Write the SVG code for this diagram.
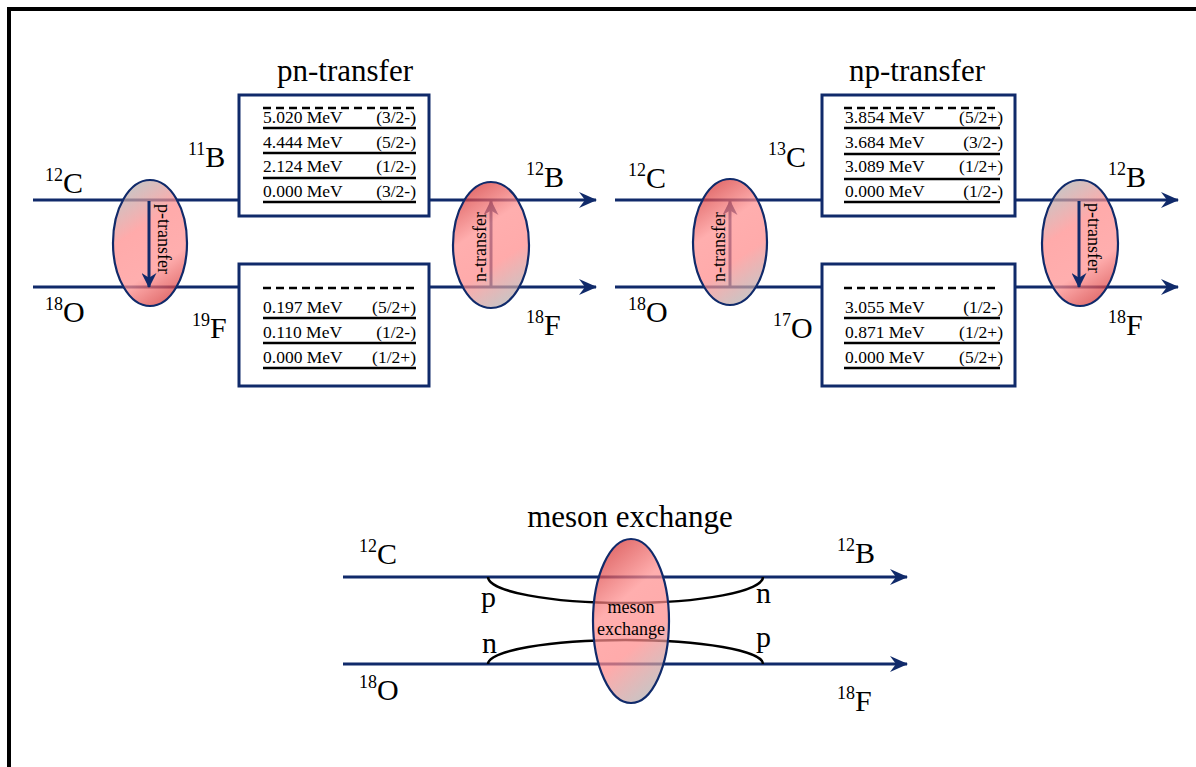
<svg xmlns="http://www.w3.org/2000/svg" width="1196" height="767" viewBox="0 0 1196 767">
<style>
.ln{stroke:#102a6a;stroke-width:3;fill:none}
.box{stroke:#102a6a;stroke-width:3;fill:#fff}
.lvl{stroke:#000;stroke-width:2.5}
.dash{stroke:#000;stroke-width:2.5;stroke-dasharray:8 5}
text{font-family:"Liberation Serif","Times New Roman",serif;fill:#000}
.el{font-family:"Liberation Serif","Times New Roman",serif;font-size:30px}
.sup{font-size:18px}
.ttl{font-family:"Liberation Serif","Times New Roman",serif;font-size:31px;text-anchor:middle}
.e{font-family:"Liberation Serif","Times New Roman",serif;font-size:17.5px}
.j{font-family:"Liberation Serif","Times New Roman",serif;font-size:17.5px;text-anchor:end}
.rot{font-family:"Liberation Serif","Times New Roman",serif;font-size:18px;text-anchor:middle}
.ms{font-family:"Liberation Serif","Times New Roman",serif;font-size:18px;text-anchor:middle}
.ell{stroke:#102a6a;stroke-width:2.2;fill-opacity:0.72}
.curve{stroke:#000;stroke-width:2.5;fill:none}
</style>
<defs>
<marker id="ah" viewBox="0 0 18 16" markerWidth="18" markerHeight="16" refX="17" refY="8" orient="auto" markerUnits="userSpaceOnUse">
<path d="M0,0 L18,8 L0,16 L6,8 z" fill="#102a6a"/>
</marker>
<marker id="ahs" viewBox="0 0 16 16" markerWidth="16" markerHeight="15" refX="15" refY="8" orient="auto" markerUnits="userSpaceOnUse">
<path d="M0,0 L16,8 L0,16 L5,8 z" fill="#102a6a"/>
</marker>
<linearGradient id="gP" x1="0.3" y1="0" x2="0.7" y2="1">
<stop offset="0" stop-color="#b0b0b0"/>
<stop offset="0.35" stop-color="#ff8a8a"/>
<stop offset="0.7" stop-color="#ff8f8f"/>
<stop offset="1" stop-color="#d43030"/>
</linearGradient>
<linearGradient id="gN" x1="0.3" y1="0" x2="0.7" y2="1">
<stop offset="0" stop-color="#d43030"/>
<stop offset="0.35" stop-color="#ff8f8f"/>
<stop offset="0.65" stop-color="#ff8a8a"/>
<stop offset="1" stop-color="#b0b0b0"/>
</linearGradient>
</defs>
<rect width="1196" height="767" fill="#fff"/>
<path d="M9,767 V9 H1196" stroke="#000" stroke-width="4" fill="none"/>

<g id="titles">
<text class="ttl" x="345" y="81">pn-transfer</text>
<text class="ttl" x="917" y="81">np-transfer</text>
<text class="ttl" x="630" y="527">meson exchange</text>
</g>

<g id="connectors">
<line class="ln" x1="33" y1="200" x2="239" y2="200"/>
<line class="ln" x1="429" y1="200" x2="596" y2="200" marker-end="url(#ah)"/>
<line class="ln" x1="33" y1="287" x2="239" y2="287"/>
<line class="ln" x1="429" y1="287" x2="596" y2="287" marker-end="url(#ah)"/>
<line class="ln" x1="615" y1="200" x2="822" y2="200"/>
<line class="ln" x1="1015" y1="200" x2="1178" y2="200" marker-end="url(#ah)"/>
<line class="ln" x1="615" y1="287" x2="822" y2="287"/>
<line class="ln" x1="1015" y1="287" x2="1178" y2="287" marker-end="url(#ah)"/>
<line class="ln" x1="343" y1="577" x2="907" y2="577" marker-end="url(#ah)"/>
<line class="ln" x1="343" y1="664" x2="907" y2="664" marker-end="url(#ah)"/>
<path class="curve" d="M488,577 A137.5,26 0 0 0 763,577"/>
<path class="curve" d="M488,664 A137.5,24 0 0 1 763,664"/>
<line class="ln" x1="491" y1="287" x2="491" y2="201" marker-end="url(#ahs)"/>
<line class="ln" x1="730" y1="287" x2="730" y2="201" marker-end="url(#ahs)"/>
</g>

<g id="box-11B">
<rect class="box" x="239" y="95" width="190" height="121"/>
<line class="dash" x1="263" y1="108" x2="416" y2="108"/>
<text class="e" x="263" y="123">5.020 MeV</text><text class="j" x="416" y="123">(3/2-)</text>
<text class="e" x="263" y="148">4.444 MeV</text><text class="j" x="416" y="148">(5/2-)</text>
<text class="e" x="263" y="172">2.124 MeV</text><text class="j" x="416" y="172">(1/2-)</text>
<text class="e" x="263" y="197">0.000 MeV</text><text class="j" x="416" y="197">(3/2-)</text>
<line class="lvl" x1="263" y1="128" x2="416" y2="128"/>
<line class="lvl" x1="263" y1="153" x2="416" y2="153"/>
<line class="lvl" x1="263" y1="178" x2="416" y2="178"/>
<line class="lvl" x1="263" y1="202" x2="416" y2="202"/>
</g>

<g id="box-19F">
<rect class="box" x="239" y="264" width="190" height="122"/>
<line class="dash" x1="263" y1="288" x2="416" y2="288"/>
<text class="e" x="263" y="313">0.197 MeV</text><text class="j" x="416" y="313">(5/2+)</text>
<text class="e" x="263" y="338">0.110 MeV</text><text class="j" x="416" y="338">(1/2-)</text>
<text class="e" x="263" y="363">0.000 MeV</text><text class="j" x="416" y="363">(1/2+)</text>
<line class="lvl" x1="263" y1="318" x2="416" y2="318"/>
<line class="lvl" x1="263" y1="343" x2="416" y2="343"/>
<line class="lvl" x1="263" y1="368" x2="416" y2="368"/>
</g>

<g id="box-13C">
<rect class="box" x="822" y="95" width="193" height="121"/>
<line class="dash" x1="844" y1="108" x2="998" y2="108"/>
<text class="e" x="845" y="123">3.854 MeV</text><text class="j" x="1003" y="123">(5/2+)</text>
<text class="e" x="845" y="148">3.684 MeV</text><text class="j" x="1003" y="148">(3/2-)</text>
<text class="e" x="845" y="172">3.089 MeV</text><text class="j" x="1003" y="172">(1/2+)</text>
<text class="e" x="845" y="197">0.000 MeV</text><text class="j" x="1003" y="197">(1/2-)</text>
<line class="lvl" x1="844" y1="128" x2="1000" y2="128"/>
<line class="lvl" x1="844" y1="154" x2="1000" y2="154"/>
<line class="lvl" x1="844" y1="179" x2="1000" y2="179"/>
<line class="lvl" x1="844" y1="202" x2="1000" y2="202"/>
</g>

<g id="box-17O">
<rect class="box" x="822" y="264" width="193" height="122"/>
<line class="dash" x1="844" y1="288" x2="998" y2="288"/>
<text class="e" x="845" y="313">3.055 MeV</text><text class="j" x="1003" y="313">(1/2-)</text>
<text class="e" x="845" y="338">0.871 MeV</text><text class="j" x="1003" y="338">(1/2+)</text>
<text class="e" x="845" y="363">0.000 MeV</text><text class="j" x="1003" y="363">(5/2+)</text>
<line class="lvl" x1="844" y1="318" x2="1000" y2="318"/>
<line class="lvl" x1="844" y1="343" x2="1000" y2="343"/>
<line class="lvl" x1="844" y1="368" x2="1000" y2="368"/>
</g>

<g id="p-transfer-1">
<ellipse class="ell" cx="150" cy="243" rx="37" ry="63" fill="url(#gP)"/>
<line class="ln" x1="149" y1="201" x2="149" y2="287" marker-end="url(#ahs)"/>
<text class="rot" transform="translate(158,239) rotate(90)">p-transfer</text>
</g>

<g id="n-transfer-1">
<ellipse class="ell" cx="491" cy="245" rx="38" ry="63" fill="url(#gN)"/>
<text class="rot" transform="translate(486,247) rotate(-90)">n-transfer</text>
</g>

<g id="n-transfer-2">
<ellipse class="ell" cx="730" cy="242" rx="37" ry="63" fill="url(#gN)"/>
<text class="rot" transform="translate(725,247) rotate(-90)">n-transfer</text>
</g>

<g id="p-transfer-2">
<ellipse class="ell" cx="1080" cy="243" rx="38" ry="63" fill="url(#gP)"/>
<line class="ln" x1="1079" y1="201" x2="1079" y2="287" marker-end="url(#ahs)"/>
<text class="rot" transform="translate(1088,238) rotate(90)">p-transfer</text>
</g>

<g id="meson-exchange">
<ellipse class="ell" cx="631" cy="621" rx="38" ry="82" fill="url(#gN)"/>
<text class="ms" x="631" y="613">meson</text>
<text class="ms" x="631" y="635">exchange</text>
</g>

<g id="labels">
<text class="el" x="45" y="193"><tspan class="sup" dy="-12">12</tspan><tspan dy="12">C</tspan></text>
<text class="el" x="188" y="167"><tspan class="sup" dy="-12">11</tspan><tspan dy="12">B</tspan></text>
<text class="el" x="526" y="187"><tspan class="sup" dy="-12">12</tspan><tspan dy="12">B</tspan></text>
<text class="el" x="45" y="322"><tspan class="sup" dy="-12">18</tspan><tspan dy="12">O</tspan></text>
<text class="el" x="192" y="338"><tspan class="sup" dy="-12">19</tspan><tspan dy="12">F</tspan></text>
<text class="el" x="526" y="335"><tspan class="sup" dy="-12">18</tspan><tspan dy="12">F</tspan></text>
<text class="el" x="628" y="188"><tspan class="sup" dy="-12">12</tspan><tspan dy="12">C</tspan></text>
<text class="el" x="768" y="167"><tspan class="sup" dy="-12">13</tspan><tspan dy="12">C</tspan></text>
<text class="el" x="1108" y="187"><tspan class="sup" dy="-12">12</tspan><tspan dy="12">B</tspan></text>
<text class="el" x="628" y="322"><tspan class="sup" dy="-12">18</tspan><tspan dy="12">O</tspan></text>
<text class="el" x="773" y="338"><tspan class="sup" dy="-12">17</tspan><tspan dy="12">O</tspan></text>
<text class="el" x="1108" y="335"><tspan class="sup" dy="-12">18</tspan><tspan dy="12">F</tspan></text>
<text class="el" x="359" y="564"><tspan class="sup" dy="-12">12</tspan><tspan dy="12">C</tspan></text>
<text class="el" x="359" y="700"><tspan class="sup" dy="-12">18</tspan><tspan dy="12">O</tspan></text>
<text class="el" x="837" y="563"><tspan class="sup" dy="-12">12</tspan><tspan dy="12">B</tspan></text>
<text class="el" x="837" y="711"><tspan class="sup" dy="-12">18</tspan><tspan dy="12">F</tspan></text>
<text class="el" x="481" y="607">p</text>
<text class="el" x="482" y="653">n</text>
<text class="el" x="756" y="603">n</text>
<text class="el" x="756" y="647">p</text>
</g>
</svg>
